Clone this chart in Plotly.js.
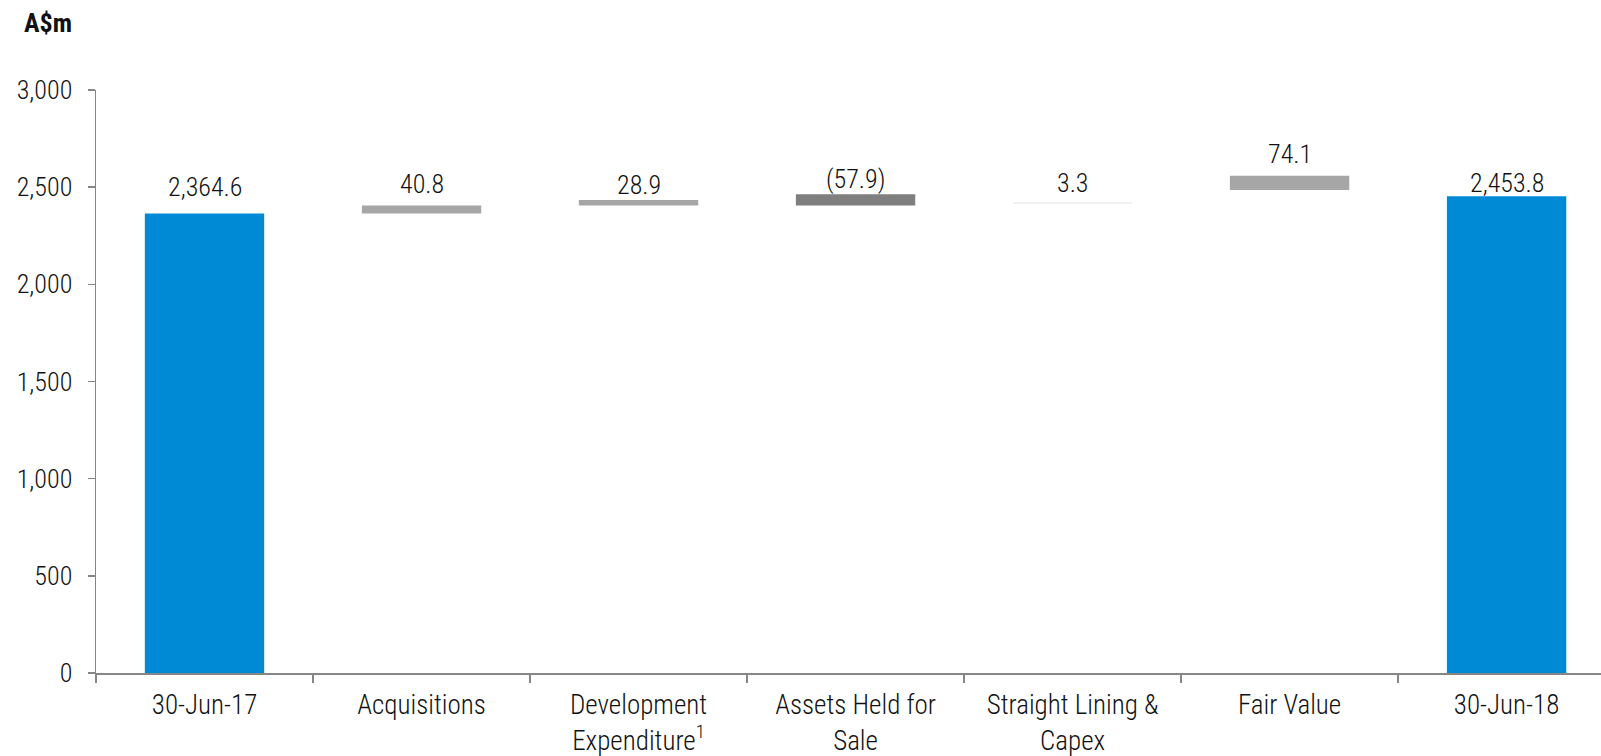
<!DOCTYPE html>
<html>
<head>
<meta charset="utf-8">
<script src="https://cdn.plot.ly/plotly-3.0.1.min.js"></script>
<style>
  html, body { margin: 0; padding: 0; background: #ffffff; }
  #chart { width: 1601px; height: 756px; }
</style>
</head>
<body>
<div id="chart"></div>
<script>
// Property value bridge, A$m
const categories = [
  '30-Jun-17',
  'Acquisitions',
  'Development<br>Expenditure<sup>1</sup>',
  'Assets Held for<br>Sale',
  'Straight Lining &<br>Capex',
  'Fair Value',
  '30-Jun-18'
];

// movement (or total) shown by each bar
const values = [2364.6, 40.8, 28.9, -57.9, 3.3, 74.1, 2453.8];

// level each bar starts from
const bases = [0, 2364.6, 2405.4, 2463.3, 2417.0, 2485.0, 0];

const barColors = ['#008AD6', '#A6A6A6', '#A6A6A6', '#7F7F7F', '#C8C8C8', '#A6A6A6', '#008AD6'];

// vertical nudge (px) of each value label above its bar
const labelLift = [9, 5, -2, -2, 3, 5, -4];

const FONT = '"Roboto Condensed", "Liberation Sans Narrow", sans-serif';
const TEXT = '#111111';
const AXIS_GREY = '#868686';
const WEIGHT = 300;

function fmt(v) {
  const s = Math.abs(v).toLocaleString('en-US', { minimumFractionDigits: 1, maximumFractionDigits: 1 });
  return v < 0 ? '(' + s + ')' : s;
}

const bars = {
  type: 'bar',
  x: categories,
  y: values,
  base: bases,
  width: 0.55,
  marker: { color: barColors, line: { width: 0 } },
  hoverinfo: 'skip',
  showlegend: false
};

const labels = categories.map((c, i) => ({
  x: c,
  y: Math.max(bases[i], bases[i] + values[i]),
  xref: 'x',
  yref: 'y',
  text: fmt(values[i]),
  showarrow: false,
  xanchor: 'center',
  yanchor: 'bottom',
  yshift: labelLift[i],
  font: { family: FONT, size: 26, color: TEXT, weight: WEIGHT }
}));

labels.push({
  xref: 'paper',
  yref: 'paper',
  x: -0.049,
  y: 1.115,
  xanchor: 'left',
  yanchor: 'middle',
  text: '<b>A$m</b>',
  showarrow: false,
  font: { family: FONT, size: 26, color: TEXT }
});

const layout = {
  width: 1601,
  height: 756,
  margin: { l: 96, r: 0, t: 90, b: 83 },
  paper_bgcolor: '#ffffff',
  plot_bgcolor: '#ffffff',
  font: { family: FONT, size: 26, color: TEXT },
  xaxis: {
    type: 'category',
    categoryorder: 'array',
    categoryarray: categories,
    range: [-0.5, 6.435],
    showline: true,
    linecolor: AXIS_GREY,
    linewidth: 2,
    ticks: 'outside',
    tickson: 'boundaries',
    ticklen: 8,
    tickwidth: 1.5,
    tickcolor: AXIS_GREY,
    showgrid: false,
    zeroline: false,
    tickfont: { family: FONT, size: 27, color: TEXT, weight: WEIGHT },
    ticklabelstandoff: 7
  },
  yaxis: {
    range: [0, 3000],
    dtick: 500,
    tickformat: ',',
    showline: true,
    linecolor: AXIS_GREY,
    linewidth: 1.5,
    ticks: 'outside',
    ticklen: 7,
    tickwidth: 1.5,
    tickcolor: AXIS_GREY,
    showgrid: false,
    zeroline: false,
    tickfont: { family: FONT, size: 26, color: TEXT, weight: WEIGHT },
    ticklabelstandoff: 10
  },
  annotations: labels
};

Plotly.newPlot('chart', [bars], layout, { displayModeBar: false, staticPlot: true });
</script>
</body>
</html>
